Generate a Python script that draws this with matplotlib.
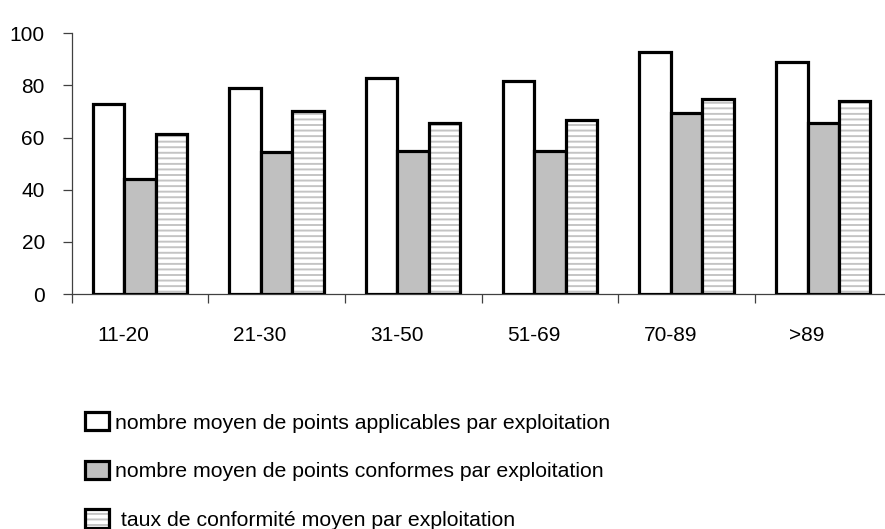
import matplotlib.pyplot as plt
import numpy as np
from matplotlib.patches import Patch

plt.rcParams['font.family'] = ['Liberation Sans', 'DejaVu Sans']
plt.rcParams['hatch.linewidth'] = 1.4

# Data
categories = ['11-20', '21-30', '31-50', '51-69', '70-89', '>89']
points_applicables = [72.9, 79.1, 82.7, 81.7, 92.8, 89.1]
points_conformes = [44.0, 54.4, 55.0, 55.0, 69.5, 65.6]
taux_conformite = [61.3, 70.3, 65.7, 66.6, 74.7, 73.9]

legend_labels = [
    'nombre moyen de points applicables par exploitation',
    'nombre moyen de points conformes par exploitation',
    ' taux de conformité moyen par exploitation',
]

fig = plt.figure(figsize=(8.85, 5.29), dpi=100)
ax = fig.add_axes([71.5 / 885, 1 - 294 / 529, 1 - 71.5 / 885, (294 - 33.3) / 529])

x = np.arange(len(categories))
w = 0.23
edge = dict(edgecolor='black', linewidth=2.3)

ax.bar(x - w, points_applicables, w, color='white', **edge, zorder=3)
ax.bar(x, points_conformes, w, color='#c0c0c0', **edge, zorder=3)
# hatched bars: gray hatch first, then black outline on top
ax.bar(x + w, taux_conformite, w, color='white', edgecolor='#c4c4c4',
       hatch='---', linewidth=0, zorder=3)
ax.bar(x + w, taux_conformite, w, fill=False, **edge, zorder=4)

ax.set_xlim(-0.5, 5.452)
ax.set_ylim(0, 100)

# Axes look
for s in ['top', 'right']:
    ax.spines[s].set_visible(False)
for s in ['left', 'bottom']:
    ax.spines[s].set_color('#404040')
    ax.spines[s].set_linewidth(0.9)

ax.set_yticks([0, 20, 40, 60, 80, 100])
ax.tick_params(axis='y', direction='out', length=6.7, width=0.9, color='#404040',
               pad=12.5, labelsize=15)

# major x ticks at group boundaries, labels on minor ticks
ax.set_xticks(np.arange(len(categories)) - 0.5)
ax.set_xticklabels([])
ax.set_xticks(x - 0.12, minor=True)
ax.set_xticklabels(categories, minor=True)
ax.tick_params(axis='x', which='major', direction='out', length=6.7, width=0.9,
               color='#404040')
ax.tick_params(axis='x', which='minor', length=0, pad=23, labelsize=15)

# Legend
handles = [
    Patch(facecolor='white', edgecolor='black', linewidth=2.3),
    Patch(facecolor='#c0c0c0', edgecolor='black', linewidth=2.3),
    (Patch(facecolor='white', edgecolor='#c4c4c4', hatch='---', linewidth=0),
     Patch(fill=False, edgecolor='black', linewidth=2.3)),
]
fig.legend(handles, legend_labels, loc='upper left',
           bbox_to_anchor=(85 / 885, 1 - 412 / 529), frameon=False,
           fontsize=15.3, handlelength=1.15, handleheight=0.96,
           handletextpad=0.25, labelspacing=1.32, borderpad=0, borderaxespad=0)

fig.savefig('out.png', dpi=100)
